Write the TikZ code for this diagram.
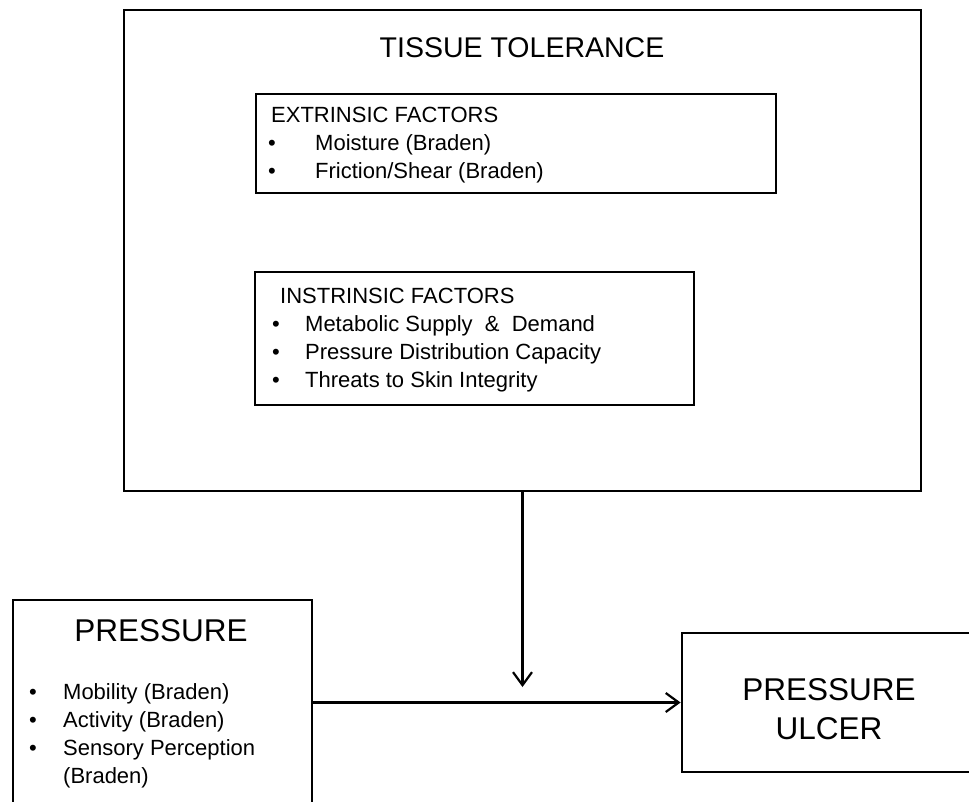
\documentclass[tikz,border=0pt]{standalone}
\usepackage{fontspec}
\setmainfont{Liberation Sans}
\usetikzlibrary{arrows.meta}
\newcommand{\itm}[2]{\makebox[#1][l]{\textbullet}#2}
\tikzset{box/.style={draw, rectangle, inner sep=0pt, line width=2.8pt},
         subbox/.style={draw, rectangle, inner sep=0pt, line width=1.8pt},
         txt/.style={anchor=base west, inner sep=0pt, font=\fontsize{22}{22}\selectfont},
         bigtxt/.style={anchor=base, inner sep=0pt, font=\fontsize{31.5}{31.5}\selectfont},
         arr/.style={line width=2.2pt, -{Straight Barb[length=13pt,width=19pt,line width=2.2pt]}}}

\begin{document}
\begin{tikzpicture}[x=1pt,y=-1pt]
                \useasboundingbox (0,0) rectangle (969,801);
                \clip (0,0) rectangle (969,801);

                % tissue tolerance
                \node[box, minimum width=797pt, minimum height=481pt] (tissue) at (522.5,250.5) {};
                \node[bigtxt, font=\fontsize{28.5}{28.5}\selectfont] (ttitle) at (522,57) {TISSUE TOLERANCE};

                \node[subbox, minimum width=520pt, minimum height=99pt] (extr) at (516,143.5) {};
                \node[txt] (e0) at (271,122) {EXTRINSIC FACTORS};
                \node[txt] (e1) at (268,150) {\itm{47pt}{Moisture (Braden)}};
                \node[txt] (e2) at (268,178) {\itm{47pt}{Friction/Shear (Braden)}};

                \node[subbox, minimum width=439pt, minimum height=133pt] (intr) at (474.5,338.5) {};
                \node[txt] (i0) at (280,303) {INSTRINSIC FACTORS};
                \node[txt] (i1) at (272,331) {\itm{33pt}{Metabolic Supply\ \ \&\ \ Demand}};
                \node[txt] (i2) at (272,359) {\itm{33pt}{Pressure Distribution Capacity}};
                \node[txt] (i3) at (272,387) {\itm{33pt}{Threats to Skin Integrity}};

                % pressure
                \node[box, minimum width=299pt, minimum height=205pt] (press) at (162.5,702.5) {};
                \node[bigtxt] (ptitle) at (161,641) {PRESSURE};
                \node[txt] (p1) at (29,699) {\itm{34pt}{Mobility (Braden)}};
                \node[txt] (p2) at (29,727) {\itm{34pt}{Activity (Braden)}};
                \node[txt] (p3) at (29,755) {\itm{34pt}{Sensory Perception}};
                \node[txt] (p4) at (63,783) {(Braden)};

                % outcome
                \node[box, minimum width=294pt, minimum height=139pt] (ulcer) at (829,702.5) {};
                \node[bigtxt] (u1) at (829,700) {PRESSURE};
                \node[bigtxt] (u2) at (829,739) {ULCER};

                \coordinate (join) at (522.5,687);
                \draw[arr] (tissue.south) -- (join);
                \draw[arr] (press.east) -- (ulcer.west);

\end{tikzpicture}
\end{document}
